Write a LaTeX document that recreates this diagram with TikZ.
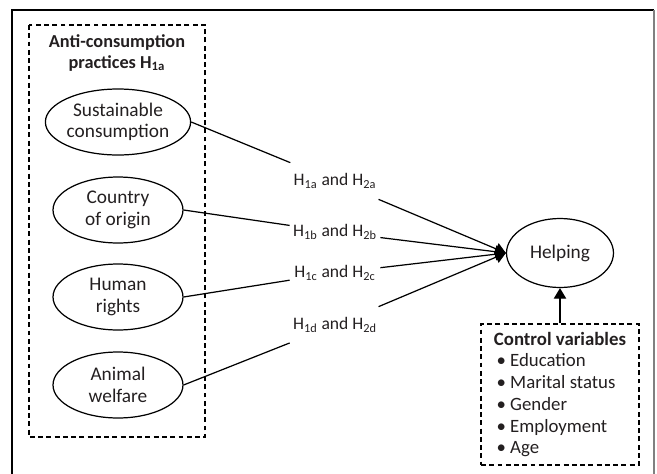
\documentclass[tikz,border=0pt]{standalone}
\usepackage{fontspec}
\setmainfont{Carlito}
\usepackage{xcolor}
\usepackage{tikz}
\usetikzlibrary{arrows.meta,shapes.geometric}

\definecolor{inkgray}{HTML}{231F20}

\begin{document}
\begin{tikzpicture}[
    x=0.02cm, y=-0.02cm,
    text=inkgray,
    font=\fontsize{10}{12.5}\selectfont,
    construct/.style={ellipse, draw, line width=0.7pt, minimum width=2.6cm,
        minimum height=1.32cm, inner sep=0pt, align=center,
        font=\fontsize{11}{12.3}\selectfont},
    hyplabel/.style={minimum width=1.8cm, minimum height=0.72cm, inner sep=0pt},
    link/.style={line width=0.7pt},
    effect/.style={line width=0.7pt, -{Triangle[length=6pt,width=7pt]}},
    groupbox/.style={draw, dash pattern=on 2.8pt off 1.9pt, line width=0.7pt}
]

\useasboundingbox (0,0) rectangle (657,474);

% -------------------------------------------------
% Frame
% -------------------------------------------------

\draw[line width=0.6pt] (12,474) -- (12,10) -- (654,10);
\draw[gray, line width=1.3pt] (654,10) -- (654,474);

% -------------------------------------------------
% Anti-consumption practices
% -------------------------------------------------

\draw[groupbox] (29,25) rectangle (205,437);

\node[
    font=\fontsize{10.4}{11.5}\selectfont\bfseries,
    align=center
] (title) at (117,53)
{
Anti-consumption\\
practices H\textsubscript{1a}
};

\node[construct] (sust)   at (118,122) {Sustainable\\consumption};
\node[construct] (origin) at (118,210) {Country\\of origin};
\node[construct] (human)  at (118,297) {Human\\rights};
\node[construct] (animal) at (118,385) {Animal\\welfare};

% -------------------------------------------------
% Outcome
% -------------------------------------------------

\node[
    construct,
    minimum width=2.14cm,
    minimum height=1.38cm
] (help) at (560,253) {Helping};

% -------------------------------------------------
% Hypotheses
% -------------------------------------------------

\node[hyplabel] (hypa) at (335,181) {H\textsubscript{1a} and H\textsubscript{2a}};
\node[hyplabel] (hypb) at (335,232) {H\textsubscript{1b} and H\textsubscript{2b}};
\node[hyplabel] (hypc) at (335,273) {H\textsubscript{1c} and H\textsubscript{2c}};
\node[hyplabel] (hypd) at (335,325) {H\textsubscript{1d} and H\textsubscript{2d}};

\draw[link] (sust.east)   -- (hypa);
\draw[link] (origin.east) -- (hypb);
\draw[link] (human.east)  -- (hypc);
\draw[link] (animal.east) -- (hypd);

\draw[effect] (hypa) -- (help.west);
\draw[effect] (hypb) -- (help.west);
\draw[effect] (hypc) -- (help.west);
\draw[effect] (hypd) -- (help.west);

% -------------------------------------------------
% Control variables
% -------------------------------------------------

\node[
    groupbox,
    minimum width=3.16cm,
    minimum height=2.82cm,
    inner sep=0pt,
    align=left,
    font=\fontsize{10.7}{12.4}\selectfont
] (ctrl) at (560,394.5)
{
\textbf{Control variables}\\
\hspace{1.5pt}\textbullet\ Education\\
\hspace{1.5pt}\textbullet\ Marital status\\
\hspace{1.5pt}\textbullet\ Gender\\
\hspace{1.5pt}\textbullet\ Employment\\
\hspace{1.5pt}\textbullet\ Age
};

\draw[effect] (ctrl.north) -- (help.south);

\end{tikzpicture}
\end{document}
